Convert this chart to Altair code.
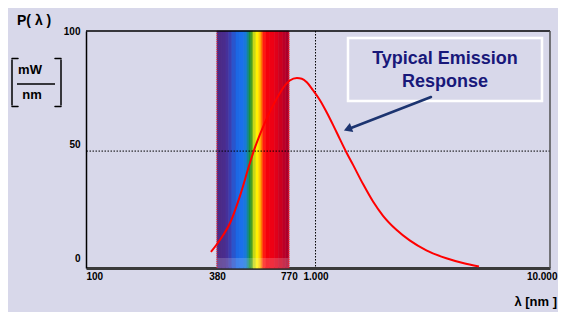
import altair as alt
import pandas as pd

# ---- data ----
curve_nm = [358, 391, 432, 476, 525, 551, 579, 620, 684, 705, 740, 777, 833, 874, 918,
            974, 1043, 1114, 1189, 1269, 1355, 1446, 1595, 1759, 1941, 2213, 2521, 2970,
            3613, 4253, 4976]
curve_p = [2.7, 8.0, 15.5, 27.4, 42.0, 48.7, 54.6, 61.8, 70.6, 73.0, 76.3, 78.5, 79.6,
           79.3, 77.7, 74.3, 69.9, 64.6, 58.8, 52.7, 46.7, 41.2, 32.7, 25.0, 18.7, 12.5,
           7.8, 3.4, -0.1, -2.2, -3.7]

band_nm = [380, 399, 415, 427, 440, 458, 476, 495, 510, 520, 530, 541, 557, 573, 585,
           596, 614, 639, 668, 694, 726, 747]
band_color = ["#4b2a86", "#4a2c8c", "#46319a", "#3a3eb0", "#2a55cc", "#1c68e4", "#1a70ec",
              "#1878dc", "#14869a", "#1a9040", "#4aa020", "#c8d818", "#fff000", "#ffc800",
              "#ff7800", "#ff1a10", "#f4000c", "#ee0014", "#e0001a", "#cc0020", "#bc0028",
              "#ac002c"]
band_limits = [380, 770]

x_ticks = [105, 380, 770, 1000, 10000]
x_labels = ["100", "380", "770", "1.000", "10.000"]
y_ticks = [0, 50, 100]
marker_nm = [1000]
marker_p = [47.3]

# ---- layout ----
W, H = 464, 237
FONT = "Liberation Sans"
BG = "#d8d8ea"
NAVY = "#18187a"

band_end = band_nm[1:] + [band_limits[1]]
curve_df = pd.DataFrame({"nm": curve_nm, "p": curve_p})
band_df = pd.DataFrame({"s": band_nm, "e": band_end, "c": band_color})
one = pd.DataFrame({"a": [0]})

xs = alt.Scale(type="log", domain=[105, 10000], nice=False)
ys = alt.Scale(domain=[-4.4, 100.4], nice=False, zero=False)

label_expr = "".join(f"datum.value == {v} ? '{l}' : " for v, l in zip(x_ticks, x_labels)) + "''"

x_axis = alt.Axis(values=x_ticks, labelExpr=label_expr, title=None, ticks=False, grid=False,
                  domainColor="#3a3a3a", domainWidth=3, labelFont=FONT, labelFontSize=10,
                  labelFontWeight="bold", labelColor="black", labelPadding=3,
                  labelFlush=False, labelOverlap=False, labelBound=False,
                  labelAlign={"condition": [
                      {"test": f"datum.value == {x_ticks[0]}", "value": "left"},
                      {"test": f"datum.value == {x_ticks[-1]}", "value": "right"}],
                      "value": "center"},
                  labelOffset={"condition": {"test": f"datum.value == {x_ticks[-1]}", "value": 7},
                               "value": 0})
y_axis = alt.Axis(values=y_ticks, title=None, ticks=False, grid=False, domainColor="black",
                  domainWidth=1.5, labelFont=FONT, labelFontSize=10, labelFontWeight="bold",
                  labelColor="black", labelPadding=6)

band = alt.Chart(band_df).mark_rect(strokeWidth=0.6).encode(
    x=alt.X("s:Q", scale=xs, axis=x_axis),
    x2="e:Q",
    y=alt.value(0), y2=alt.value(H),
    color=alt.Color("c:N", scale=None),
    stroke=alt.Stroke("c:N", scale=None),
)
strip = alt.Chart(band_df).mark_rect(color="white", opacity=0.18).encode(
    x=alt.X("s:Q", scale=xs), x2="e:Q", y=alt.value(H - 10), y2=alt.value(H),
)
edges = alt.Chart(pd.DataFrame({"x": band_limits})).mark_rule(
    color="#ff2020", strokeDash=[1, 1], strokeWidth=1).encode(x=alt.X("x:Q", scale=xs))

vline = alt.Chart(pd.DataFrame({"x": marker_nm})).mark_rule(
    color="black", strokeDash=[1.5, 1.5], strokeWidth=1).encode(x=alt.X("x:Q", scale=xs))
hline = alt.Chart(pd.DataFrame({"y": marker_p})).mark_rule(
    color="black", strokeDash=[1.5, 1.5], strokeWidth=1).encode(y=alt.Y("y:Q", scale=ys, axis=y_axis))

curve = alt.Chart(curve_df).mark_line(color="#ff0000", strokeWidth=2, interpolate="monotone").encode(
    x=alt.X("nm:Q", scale=xs), y=alt.Y("p:Q", scale=ys, axis=y_axis),
)

def rule(x, y, x2, y2, color="black", width=1.5, cap="butt"):
    return alt.Chart(one).mark_rule(color=color, strokeWidth=width, strokeCap=cap).encode(
        x=alt.value(x), y=alt.value(y), x2=alt.value(x2), y2=alt.value(y2))

def text(t, x, y, size, align="center", color="black"):
    return alt.Chart(one).mark_text(text=t, font=FONT, fontSize=size, fontWeight="bold",
                                    color=color, align=align, baseline="middle").encode(
        x=alt.value(x), y=alt.value(y))

frame = [
    rule(0, 0, W, 0, "black", 1.5),
    rule(W, 0, W, H, "#505050", 1.5),
]

box = alt.Chart(one).mark_rect(fillOpacity=0, stroke="white", strokeWidth=2.5).encode(
    x=alt.value(262), x2=alt.value(456), y=alt.value(7), y2=alt.value(70))
arrow_line = rule(345, 66, 265, 97, "#1c3470", 2.5, "round")
arrow_head = alt.Chart(one).mark_point(shape="triangle", filled=True, color="#1c3470",
                                       size=90, angle=249, opacity=1).encode(
    x=alt.value(263), y=alt.value(97.5))

labels = [
    text("Typical Emission", 359, 28, 18, color=NAVY),
    text("Response", 359, 51, 18, color=NAVY),
    text("P( λ )", -69, -10, 14, align="left"),
    text("mW", -56, 39, 13),
    text("nm", -54, 64, 13),
    text("λ  [nm ]", 471, 271, 13, align="right"),
]
bracket = [
    rule(-69, 53, -31, 53, "black", 1.3),
    rule(-74, 29, -74, 74, "black", 1.5, "round"),
    rule(-74, 27.5, -68, 27.5, "black", 1.5, "round"),
    rule(-74, 75.5, -68, 75.5, "black", 1.5, "round"),
    rule(-25, 29, -25, 74, "black", 1.5, "round"),
    rule(-25, 27.5, -31, 27.5, "black", 1.5, "round"),
    rule(-25, 75.5, -31, 75.5, "black", 1.5, "round"),
]

chart = alt.layer(
    band, strip, edges, vline, hline, curve, *frame, box, arrow_line, arrow_head,
    *labels, *bracket,
).properties(
    width=W, height=H,
    autosize=alt.AutoSizeParams(type="none"),
    padding={"left": 78, "top": 23, "right": 8, "bottom": 44},
    background=BG,
).configure_view(stroke=None)

chart.save("out.html", embed_options={"renderer": "svg", "actions": False})
